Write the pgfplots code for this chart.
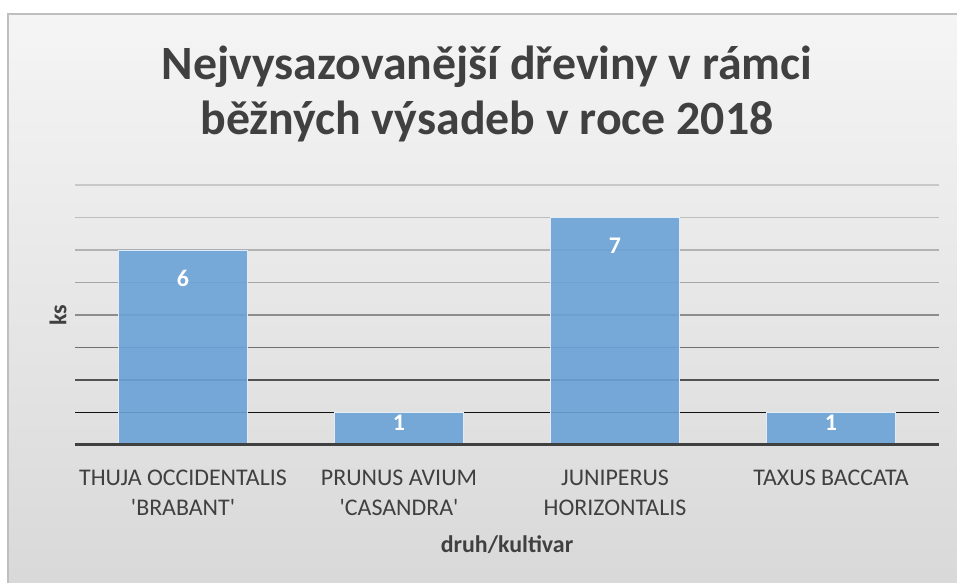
\documentclass[border=0pt]{standalone}
\usepackage{pgfplots}
\pgfplotsset{compat=1.18}
\usepackage{fontspec}
\setmainfont{Carlito}
\definecolor{barblue}{HTML}{6AA2D7}
\definecolor{txt}{HTML}{404040}
\definecolor{g8}{HTML}{C8C8C8}
\definecolor{g7}{HTML}{BEBEBE}
\definecolor{g6}{HTML}{B2B2B2}
\definecolor{g5}{HTML}{A4A4A4}
\definecolor{g4}{HTML}{8C8C8C}
\definecolor{g3}{HTML}{707070}
\definecolor{g2}{HTML}{525252}
\definecolor{g1}{HTML}{111111}
\definecolor{g0}{HTML}{404040}
\begin{document}
\begin{tikzpicture}[x=1bp,y=1bp]
\useasboundingbox (0,0) rectangle (957,583);
\fill[white] (0,0) rectangle (957,583);
\shade[top color=white!96!black, bottom color=white!85!black] (8,0) rectangle (957,569);
\draw[color=white!75!black, line width=1.5bp] (8,0) -- (8,569) -- (957,569);
\node[anchor=base, font=\bfseries\fontsize{48}{48}\selectfont, text=txt] at (487,503) {Nejvysazovanější dřeviny v rámci};
\node[anchor=base, font=\bfseries\fontsize{48}{48}\selectfont, text=txt] at (487,448) {běžných výsadeb v roce 2018};
\begin{axis}[
  at={(75bp,138bp)}, anchor=south west,
  width=864bp, height=260bp, scale only axis,
  xmin=-0.5, xmax=3.5, ymin=0, ymax=8,
  axis line style={draw=none},
  major tick length=0pt,
  ytick=\empty,
  xtick={0,1,2,3},
  /pgf/number format/assume math mode=true,
  xticklabels={{THUJA OCCIDENTALIS\\\textquotesingle BRABANT\textquotesingle}, {PRUNUS AVIUM\\\textquotesingle CASANDRA\textquotesingle}, {JUNIPERUS\\HORIZONTALIS}, {TAXUS BACCATA}},
  xticklabel style={align=center, font=\fontsize{24}{31}\selectfont, text=txt, anchor=north, yshift=-21bp},
  xlabel={druh/kultivar},
  ylabel={ks},
  every axis x label/.style={at={(axis description cs:0.5,-0.385)}, anchor=center, font=\bfseries\fontsize{24}{24}\selectfont, text=txt},
  every axis y label/.style={at={(axis description cs:-0.0197,0.5)}, rotate=90, anchor=center, font=\bfseries\fontsize{24}{24}\selectfont, text=txt},
  clip=false,
]
\addplot[g8, line width=1.5bp, forget plot] coordinates {(-0.5,8) (3.5,8)};
\addplot[g7, line width=1.5bp, forget plot] coordinates {(-0.5,7) (3.5,7)};
\addplot[g6, line width=1.5bp, forget plot] coordinates {(-0.5,6) (3.5,6)};
\addplot[g5, line width=1.5bp, forget plot] coordinates {(-0.5,5) (3.5,5)};
\addplot[g4, line width=1.5bp, forget plot] coordinates {(-0.5,4) (3.5,4)};
\addplot[g3, line width=1.5bp, forget plot] coordinates {(-0.5,3) (3.5,3)};
\addplot[g2, line width=1.5bp, forget plot] coordinates {(-0.5,2) (3.5,2)};
\addplot[g1, line width=1.5bp, forget plot] coordinates {(-0.5,1) (3.5,1)};
\addplot[ybar, bar width=0.597, bar shift=0pt, fill=barblue, fill opacity=0.9, draw=white!80!barblue, line width=0.8bp,
  nodes near coords,
  nodes near coords style={font=\bfseries\fontsize{24}{24}\selectfont, text=white, text opacity=1, anchor=center},
  coordinate style/.condition={y>2}{yshift=-28bp},
  coordinate style/.condition={y<=2}{yshift=-10bp},
] coordinates {(0,6) (1,1) (2,7) (3,1)};
\addplot[g0, line width=3bp, forget plot] coordinates {(-0.5,0) (3.5,0)};
\end{axis}
\end{tikzpicture}
\end{document}
